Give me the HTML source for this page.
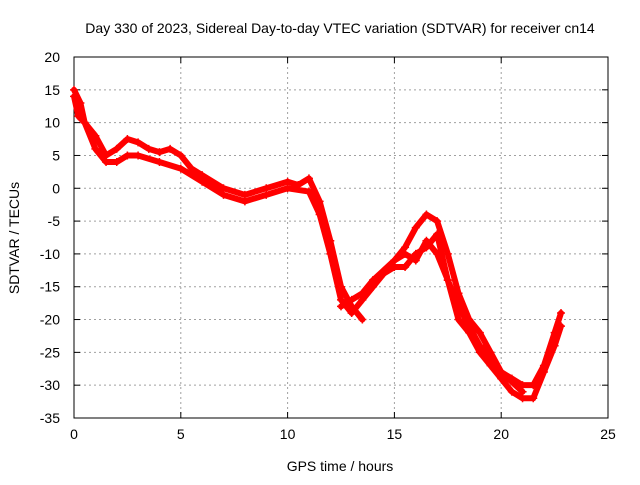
<!DOCTYPE html>
<html><head><meta charset="utf-8"><style>
body{margin:0;background:#fff;}
svg text{font-family:"Liberation Sans",sans-serif;font-size:14px;fill:#000;}
</style></head><body>
<svg id="chart" width="640" height="480">
<rect width="640" height="480" fill="#fff"/>
<text x="340" y="33" text-anchor="middle">Day 330 of 2023, Sidereal Day-to-day VTEC variation (SDTVAR) for receiver cn14</text>
<g id="grid"></g><g id="axes"></g><g id="series"></g>
<text x="340" y="471" text-anchor="middle">GPS time / hours</text>
<text transform="translate(19,238) rotate(-90)" text-anchor="middle">SDTVAR / TECUs</text>
</svg>
<script>
const xTicks=[0,5,10,15,20,25];
const yTicks=[20,15,10,5,0,-5,-10,-15,-20,-25,-30,-35];
const trackA_t=[0,0.3,0.5,1,1.5,2,2.5,3,3.5,4,4.5,5,5.5,6,7,8,9,10,10.5,11,11.5,12,12.5,13,13.5];
const trackA_v=[15,13,10,8,5,6,7.5,7,6,5.5,6,5,3,2,0,-1,0,1,0.5,1.5,-2,-8,-15,-18,-20];
const trackB_t=[0,0.2,0.5,1,1.5,2,2.5,3,4,5,6,7,8,9,10,11,11.5,12,12.5,13];
const trackB_v=[14,11,10,6,4,4,5,5,4,3,1,-1,-2,-1,0,-0.5,-4,-10,-17,-19];
const trackC_t=[12.5,13,13.5,14,14.5,15,15.5,16,16.5,17,17.5,18,18.5,19,19.5,20,20.5,21,21.5,22,22.5,22.8];
const trackC_v=[-18,-17,-16,-14,-13,-11,-9,-6,-4,-5,-10,-16,-20,-22,-25,-28,-29,-30,-30,-27,-22,-19];
const trackD_t=[13,13.5,14,14.5,15,15.5,16,16.5,17,17.5,18,18.5,19,19.5,20,20.5,21,21.5,22,22.5,22.8];
const trackD_v=[-19,-17,-15,-13,-12,-12,-10,-9,-7,-14,-20,-22,-25,-27,-29,-31,-32,-32,-28,-24,-21];
const trackE_t=[14,15,15.5,16,16.5,17,17.5,18,19,20,21];
const trackE_v=[-14,-11,-10,-11,-8,-10,-14,-18,-24,-28,-31];
const X0=74,X1=608,Y0=57,Y1=418;
const xs=t=>X0+(t-0)/(25-0)*(X1-X0);
const ys=v=>Y0+(20-v)/(20-(-35))*(Y1-Y0);
const NS="http://www.w3.org/2000/svg";
function mk(tag,attrs,parent){const e=document.createElementNS(NS,tag);for(const k in attrs)e.setAttribute(k,attrs[k]);parent.appendChild(e);return e;}
const grid=document.getElementById('grid'),axes=document.getElementById('axes'),ser=document.getElementById('series');
xTicks.forEach(t=>{const x=xs(t);
 if(t>0&&t<25){const l=mk('line',{x1:x,x2:x,y1:Y0,y2:Y1,stroke:'#a0a0a0','stroke-dasharray':'2,3'},grid);
 
 }
 mk('line',{x1:x,x2:x,y1:Y1,y2:Y1-6,stroke:'#000'},axes);mk('line',{x1:x,x2:x,y1:Y0,y2:Y0+6,stroke:'#000'},axes);
 const tx=mk('text',{x:x,y:Y1+21,'text-anchor':'middle'},axes);tx.textContent=t;
 
 });
yTicks.forEach(v=>{const y=ys(v);
 if(v<20&&v>-35){const l=mk('line',{x1:X0,x2:X1,y1:y,y2:y,stroke:'#a0a0a0','stroke-dasharray':'2,3'},grid);
 
 }
 mk('line',{x1:X0,x2:X0+6,y1:y,y2:y,stroke:'#000'},axes);mk('line',{x1:X1,x2:X1-6,y1:y,y2:y,stroke:'#000'},axes);
 const tx=mk('text',{x:X0-14,y:y+5,'text-anchor':'end'},axes);tx.textContent=v;
 
 });
const fr=mk('rect',{x:X0,y:Y0,width:X1-X0,height:Y1-Y0,fill:'none',stroke:'#000'},axes);


[[trackA_t,trackA_v],[trackB_t,trackB_v],[trackC_t,trackC_v],[trackD_t,trackD_v],[trackE_t,trackE_v]].forEach((tr,i)=>{
 const pts=tr[0].map((t,j)=>xs(t)+','+ys(tr[1][j])).join(' ');
 const p=mk('polyline',{points:pts,fill:'none',stroke:'#f00','stroke-width':6,'stroke-linejoin':'round','stroke-linecap':'round'},ser);
 
 
 tr[0].forEach((t,j)=>{const x=xs(t),y=ys(tr[1][j]);
  const m=mk('path',{d:`M${x-4},${y}H${x+4}M${x},${y-4}V${y+4}`,stroke:'#f00','stroke-width':1.5},ser);
  
  });
});
</script>
</body></html>
